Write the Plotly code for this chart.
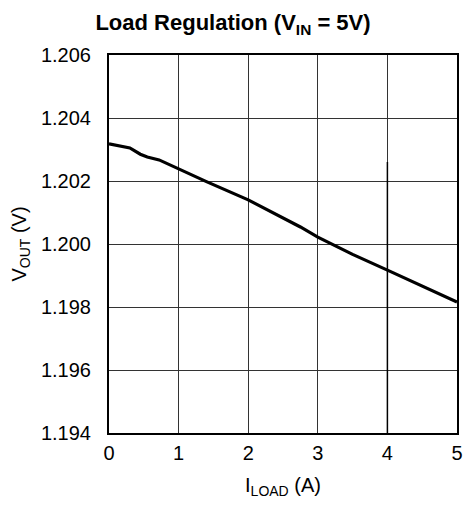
import plotly.graph_objects as go

i_load = [0.0, 0.15, 0.3, 0.45, 0.55, 0.72, 1.0, 1.4, 2.0, 2.5, 2.75, 3.0, 3.5, 4.0, 4.5, 5.0]
v_out = [1.20318, 1.20312, 1.20305, 1.20285, 1.20276, 1.20267, 1.20238, 1.20198, 1.20140, 1.20084, 1.20054, 1.20022, 1.19967, 1.19917, 1.19867, 1.19816]

x_ticks = [0, 1, 2, 3, 4, 5]
y_ticks = [1.194, 1.196, 1.198, 1.200, 1.202, 1.204, 1.206]

fig = go.Figure()
fig.add_trace(go.Scatter(x=i_load, y=v_out, mode="lines",
                         line=dict(color="black", width=3.2), showlegend=False))

# darker segment of the 4 A gridline seen in the reference
fig.add_shape(type="line", xref="x", yref="y", x0=4, x1=4, y0=1.194, y1=1.2026,
              line=dict(color="black", width=1.5), layer="above")

font = "Liberation Sans, Arial, sans-serif"
fig.update_layout(
    width=466, height=505,
    margin=dict(l=109, r=9, t=55, b=72, autoexpand=False),
    paper_bgcolor="white", plot_bgcolor="white",
    font=dict(family=font, size=20, color="black"),
    title=dict(text="<b>Load Regulation (V<sub>IN</sub> = 5V)</b>",
               x=0.5, xanchor="center", y=0.956, yanchor="middle",
               font=dict(size=22, family=font, color="black")),
)
fig.update_xaxes(range=[0, 5], tickvals=x_ticks, ticktext=[str(v) for v in x_ticks],
                 showgrid=True, gridcolor="#333", gridwidth=1.4,
                 showline=True, linecolor="black", linewidth=2, mirror=True,
                 ticks="", zeroline=False, automargin=False, ticklabelstandoff=1,
                 title=dict(text="I<sub>LOAD</sub> (A)", standoff=15, font=dict(size=20)))
fig.update_yaxes(range=[1.194, 1.206], tickvals=y_ticks,
                 ticktext=[f"{v:.3f}" for v in y_ticks],
                 showgrid=True, gridcolor="#333", gridwidth=1.4,
                 showline=True, linecolor="black", linewidth=2, mirror=True,
                 ticks="", zeroline=False, automargin=False, ticklabelstandoff=12,
                 title=dict(text="V<sub>OUT</sub> (V)", standoff=9, font=dict(size=20)))

fig.write_html("out.html", config={"displayModeBar": False},
               post_script="document.body.style.margin='0';document.body.style.overflow='hidden';")
